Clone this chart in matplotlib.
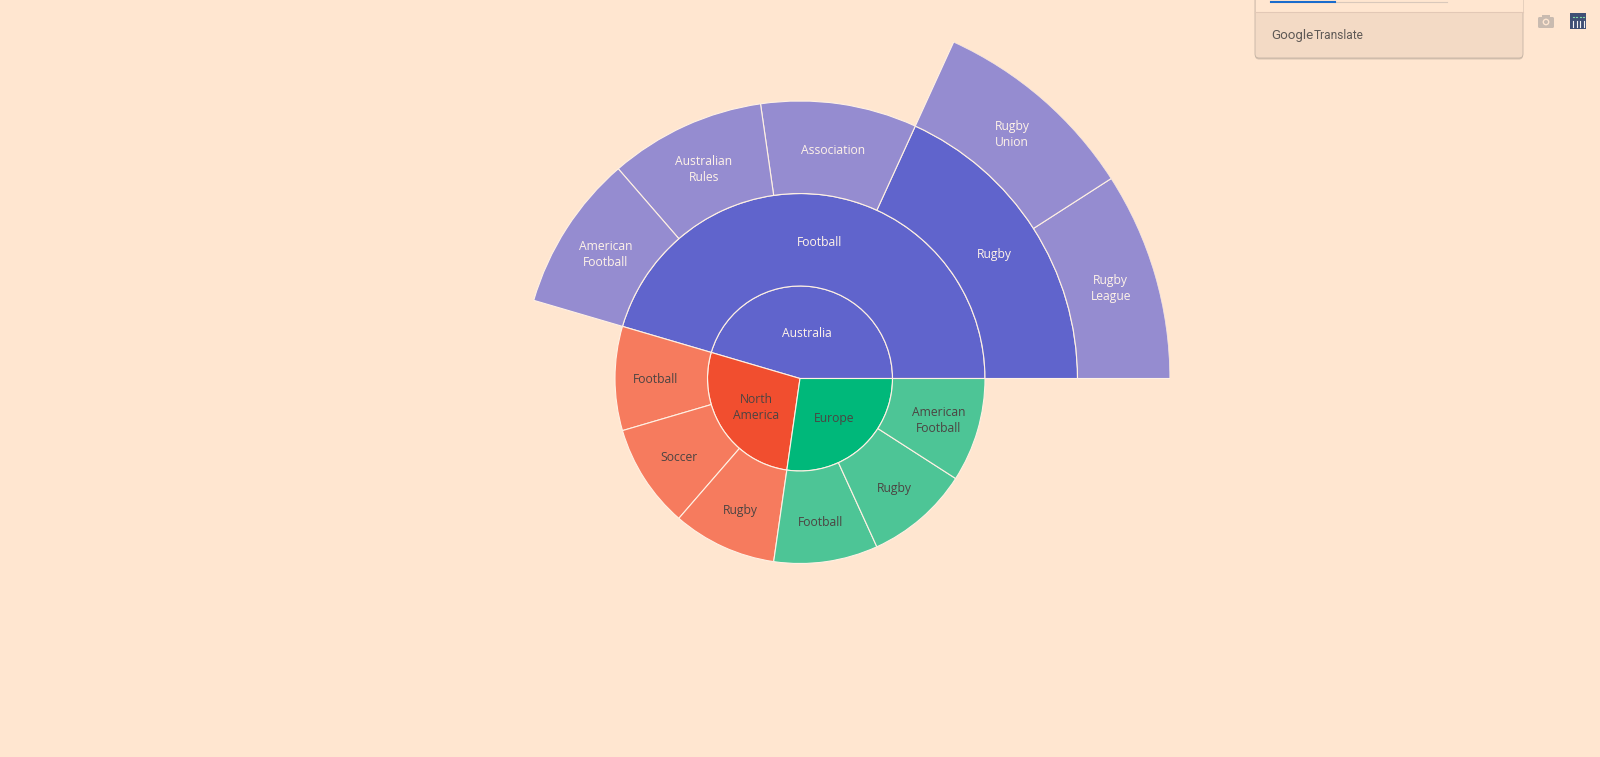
import numpy as np
import matplotlib
matplotlib.use("Agg")
import matplotlib.pyplot as plt
from matplotlib.patches import FancyBboxPatch, Rectangle, Circle

plt.rcParams['font.family'] = ['Open Sans', 'DejaVu Sans']

BG = "#ffe6d0"
LINE = "#fff1e4"
LIGHT_TEXT = "#fff3e8"
DARK_TEXT = "#4c4442"

# inner ring
labels0 = ["Australia", "North\nAmerica", "Europe"]
values0 = [5, 3, 3]
colors0 = ["#6064cc", "#f14e2f", "#00b87a"]
text0 = [LIGHT_TEXT, DARK_TEXT, DARK_TEXT]

# second ring
labels1 = ["Football", "Football", "Soccer", "Rugby", "Football", "Rugby", "American\nFootball"]
values1 = [5, 1, 1, 1, 1, 1, 1]
colors1 = ["#6064cc", "#f67b5e", "#f67b5e", "#f67b5e", "#4dc596", "#4dc596", "#4dc596"]
text1 = [LIGHT_TEXT, DARK_TEXT, DARK_TEXT, DARK_TEXT, DARK_TEXT, DARK_TEXT, DARK_TEXT]

# third ring, only under Australia > Football
labels2 = ["Rugby", "Association", "Australian\nRules", "American\nFootball"]
values2 = [2, 1, 1, 1]
colors2 = ["#6064cc", "#958cd0", "#958cd0", "#958cd0"]

# outer ring, only under Rugby
labels3 = ["Rugby\nLeague", "Rugby\nUnion"]
values3 = [1, 1]
colors3 = ["#958cd0", "#958cd0"]

TOTAL = sum(values0)
W, H = 1600, 757
CX, CY, R = 800, 378.5, 370

fig = plt.figure(figsize=(W / 100, H / 100), dpi=100, facecolor=BG)
ax = fig.add_axes([(CX - R) / W, (H - CY - R) / H, 2 * R / W, 2 * R / H], projection="polar")
ax.set_facecolor("none")
ax.set_axis_off()
ax.set_ylim(0, 4)


def draw_ring(level, values, colors, labels, text_colors, fracs):
    vals = np.array(values, dtype=float)
    widths = vals / TOTAL * 2 * np.pi
    starts = np.concatenate([[0], np.cumsum(widths)[:-1]])
    ax.bar(starts, 1, width=widths, bottom=level, align="edge", color=colors,
           edgecolor=LINE, linewidth=0.8, zorder=2)
    for s, w, lab, c, f in zip(starts, widths, labels, text_colors, fracs):
        # plotly sits the text a px lower than the wedge middle
        ax.annotate(lab, (s + w / 2, level + f), xytext=(0, -0.8), textcoords="offset points",
                    color=c, fontsize=8.7, ha="center", va="center",
                    linespacing=1.3, zorder=3)


draw_ring(0, values0, colors0, labels0, text0, [0.5, 0.56, 0.56])
draw_ring(1, values1, colors1, labels1, text1, [0.5] + [0.56] * 6)
draw_ring(2, values2, colors2, labels2, [LIGHT_TEXT] * 4, [0.5] * 4)
draw_ring(3, values3, colors3, labels3, [LIGHT_TEXT] * 2, [0.5] * 2)

# browser popup and modebar icons on top of the chart
top = fig.add_axes([0, 0, 1, 1], zorder=5)
top.set_xlim(0, W)
top.set_ylim(H, 0)
top.set_axis_off()
top.patch.set_alpha(0)

top.add_patch(FancyBboxPatch((1255, -20), 268, 79.5, boxstyle="round,pad=0,rounding_size=4",
                             fc="#a89a8c", ec="none", alpha=0.45))
top.add_patch(FancyBboxPatch((1255, -20), 268, 78, boxstyle="round,pad=0,rounding_size=4",
                             fc="#f3dac5", ec="#c4b3a4", lw=0.6))
top.add_patch(Rectangle((1255.5, -20), 267, 31.5, fc=BG, ec="none"))
top.plot([1255, 1523], [11.5, 11.5], color="#e2c8b6", lw=0.8)
top.plot([1335, 1447], [2.2, 2.2], color="#d9c8bb", lw=0.8)
top.plot([1271, 1335], [2, 2], color="#1a6ccc", lw=1.5)
top.text(1271, 39, "Google", fontsize=9.6, color="#5f5a56", va="baseline", family="Roboto")
top.text(1313.5, 39, "Translate", fontsize=8.6, color="#5f5a56", va="baseline", family="Roboto")

# camera
top.add_patch(FancyBboxPatch((1538, 17), 16, 11, boxstyle="round,pad=0,rounding_size=1.5",
                             fc="#c9bbb0", ec="none"))
top.add_patch(Rectangle((1542, 14.5), 8, 3, fc="#c9bbb0", ec="none"))
top.add_patch(Circle((1546, 22), 3.4, fc=BG, ec="none"))
top.add_patch(Circle((1546, 22), 2, fc="#c9bbb0", ec="none"))

# plotly logo
top.add_patch(Rectangle((1570, 13), 16, 16, fc="#3f4f75", ec="none"))
for x in [1573, 1576.5, 1580, 1583.5]:
    top.plot([x, x], [20.5, 26.5], color="#f2f2f2", lw=0.8)
    top.plot([x - 0.5, x + 0.5], [17, 17], color="#7fd6a4", lw=0.8)

fig.savefig("out.png", dpi=100, facecolor=BG)
